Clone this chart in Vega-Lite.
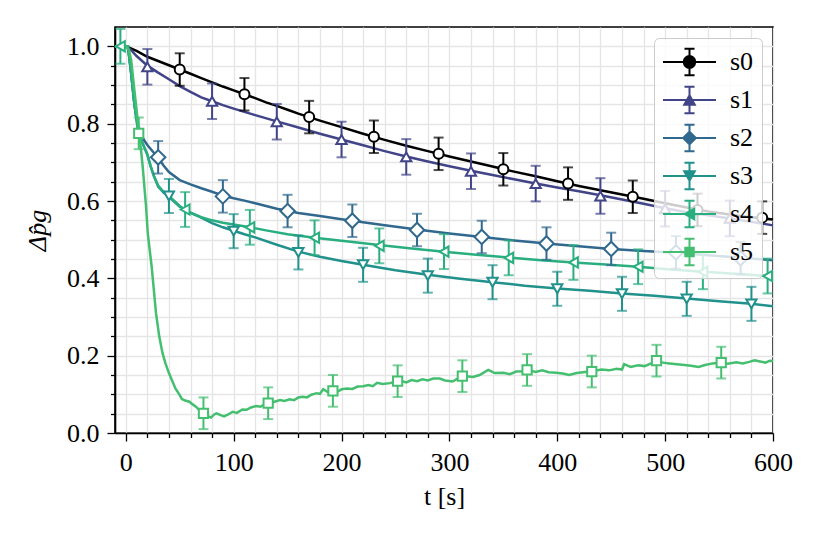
{
  "$schema": "https://vega.github.io/schema/vega-lite/v6.json",
  "width": 658,
  "height": 406,
  "autosize": {"type": "none"},
  "padding": {"left": 115, "top": 27, "right": 50, "bottom": 105},
  "config": {
    "font": "Liberation Serif",
    "view": {"stroke": "black", "strokeWidth": 1.6},
    "axis": {
      "domainColor": "black", "domainWidth": 1.6,
      "tickColor": "black", "tickWidth": 1.3,
      "labelFont": "Liberation Serif", "labelFontSize": 26, "labelColor": "black",
      "titleFont": "Liberation Serif", "titleFontSize": 26, "titleColor": "black", "titleFontWeight": "normal",
      "grid": true, "gridColor": "#e5e5e5", "gridWidth": 1.3
    },
    "legend": {
      "orient": "top-right", "offset": 11, "padding": 8,
      "fillColor": "rgba(255,255,255,0.8)", "strokeColor": "#cccccc", "cornerRadius": 5,
      "symbolSize": 900, "symbolStrokeWidth": 2, "symbolOpacity": 1, "symbolFillColor": "white",
      "labelFont": "Liberation Serif", "labelFontSize": 26, "labelColor": "black", "labelOffset": 36, "rowPadding": 2
    },
    "point": {"filled": false, "fill": "white", "strokeWidth": 2, "opacity": 1}
  },
  "datasets": {
    "lines": [
      {"s":"s0","t":-10,"v":1.0},{"s":"s0","t":0,"v":1.0},{"s":"s0","t":10,"v":0.988},{"s":"s0","t":20,"v":0.973},{"s":"s0","t":30,"v":0.962},{"s":"s0","t":40,"v":0.951},{"s":"s0","t":50,"v":0.94},{"s":"s0","t":60,"v":0.929},{"s":"s0","t":70,"v":0.918},{"s":"s0","t":80,"v":0.907},{"s":"s0","t":90,"v":0.896},{"s":"s0","t":100,"v":0.886},{"s":"s0","t":110,"v":0.876},{"s":"s0","t":120,"v":0.866},{"s":"s0","t":130,"v":0.855},{"s":"s0","t":140,"v":0.846},{"s":"s0","t":150,"v":0.836},{"s":"s0","t":160,"v":0.826},{"s":"s0","t":170,"v":0.817},{"s":"s0","t":180,"v":0.808},{"s":"s0","t":200,"v":0.791},{"s":"s0","t":220,"v":0.774},{"s":"s0","t":240,"v":0.758},{"s":"s0","t":260,"v":0.743},{"s":"s0","t":280,"v":0.729},{"s":"s0","t":300,"v":0.715},{"s":"s0","t":320,"v":0.702},{"s":"s0","t":340,"v":0.689},{"s":"s0","t":360,"v":0.676},{"s":"s0","t":380,"v":0.664},{"s":"s0","t":400,"v":0.651},{"s":"s0","t":420,"v":0.639},{"s":"s0","t":440,"v":0.628},{"s":"s0","t":460,"v":0.617},{"s":"s0","t":480,"v":0.606},{"s":"s0","t":500,"v":0.594},{"s":"s0","t":520,"v":0.583},{"s":"s0","t":540,"v":0.573},{"s":"s0","t":560,"v":0.565},{"s":"s0","t":580,"v":0.558},{"s":"s0","t":600,"v":0.552},
      {"s":"s1","t":-10,"v":1.0},{"s":"s1","t":0,"v":1.0},{"s":"s1","t":5,"v":0.99},{"s":"s1","t":10,"v":0.975},{"s":"s1","t":20,"v":0.95},{"s":"s1","t":30,"v":0.932},{"s":"s1","t":40,"v":0.915},{"s":"s1","t":50,"v":0.897},{"s":"s1","t":60,"v":0.882},{"s":"s1","t":70,"v":0.868},{"s":"s1","t":80,"v":0.858},{"s":"s1","t":90,"v":0.848},{"s":"s1","t":100,"v":0.839},{"s":"s1","t":120,"v":0.822},{"s":"s1","t":140,"v":0.806},{"s":"s1","t":160,"v":0.79},{"s":"s1","t":180,"v":0.774},{"s":"s1","t":200,"v":0.759},{"s":"s1","t":220,"v":0.744},{"s":"s1","t":240,"v":0.729},{"s":"s1","t":260,"v":0.715},{"s":"s1","t":280,"v":0.702},{"s":"s1","t":300,"v":0.69},{"s":"s1","t":320,"v":0.678},{"s":"s1","t":340,"v":0.667},{"s":"s1","t":360,"v":0.656},{"s":"s1","t":380,"v":0.645},{"s":"s1","t":400,"v":0.635},{"s":"s1","t":420,"v":0.625},{"s":"s1","t":440,"v":0.615},{"s":"s1","t":460,"v":0.604},{"s":"s1","t":480,"v":0.593},{"s":"s1","t":500,"v":0.581},{"s":"s1","t":520,"v":0.571},{"s":"s1","t":540,"v":0.563},{"s":"s1","t":560,"v":0.555},{"s":"s1","t":580,"v":0.546},{"s":"s1","t":600,"v":0.537},
      {"s":"s2","t":-10,"v":1.0},{"s":"s2","t":2,"v":1.0},{"s":"s2","t":5,"v":0.93},{"s":"s2","t":8,"v":0.85},{"s":"s2","t":11,"v":0.8},{"s":"s2","t":14,"v":0.775},{"s":"s2","t":17,"v":0.757},{"s":"s2","t":20,"v":0.745},{"s":"s2","t":25,"v":0.728},{"s":"s2","t":30,"v":0.712},{"s":"s2","t":35,"v":0.692},{"s":"s2","t":40,"v":0.675},{"s":"s2","t":50,"v":0.654},{"s":"s2","t":60,"v":0.643},{"s":"s2","t":70,"v":0.633},{"s":"s2","t":80,"v":0.624},{"s":"s2","t":90,"v":0.614},{"s":"s2","t":100,"v":0.607},{"s":"s2","t":110,"v":0.601},{"s":"s2","t":120,"v":0.594},{"s":"s2","t":130,"v":0.587},{"s":"s2","t":140,"v":0.58},{"s":"s2","t":150,"v":0.575},{"s":"s2","t":160,"v":0.569},{"s":"s2","t":180,"v":0.561},{"s":"s2","t":200,"v":0.553},{"s":"s2","t":220,"v":0.545},{"s":"s2","t":240,"v":0.537},{"s":"s2","t":270,"v":0.526},{"s":"s2","t":300,"v":0.516},{"s":"s2","t":330,"v":0.507},{"s":"s2","t":360,"v":0.498},{"s":"s2","t":390,"v":0.49},{"s":"s2","t":420,"v":0.483},{"s":"s2","t":450,"v":0.476},{"s":"s2","t":480,"v":0.471},{"s":"s2","t":510,"v":0.466},{"s":"s2","t":540,"v":0.46},{"s":"s2","t":570,"v":0.453},{"s":"s2","t":600,"v":0.447},
      {"s":"s3","t":-10,"v":1.0},{"s":"s3","t":2,"v":1.0},{"s":"s3","t":5,"v":0.93},{"s":"s3","t":8,"v":0.85},{"s":"s3","t":11,"v":0.79},{"s":"s3","t":14,"v":0.76},{"s":"s3","t":17,"v":0.74},{"s":"s3","t":20,"v":0.72},{"s":"s3","t":23,"v":0.69},{"s":"s3","t":26,"v":0.665},{"s":"s3","t":30,"v":0.637},{"s":"s3","t":35,"v":0.622},{"s":"s3","t":40,"v":0.611},{"s":"s3","t":50,"v":0.585},{"s":"s3","t":60,"v":0.57},{"s":"s3","t":70,"v":0.557},{"s":"s3","t":80,"v":0.543},{"s":"s3","t":90,"v":0.532},{"s":"s3","t":100,"v":0.523},{"s":"s3","t":110,"v":0.514},{"s":"s3","t":120,"v":0.506},{"s":"s3","t":140,"v":0.487},{"s":"s3","t":160,"v":0.469},{"s":"s3","t":180,"v":0.456},{"s":"s3","t":200,"v":0.445},{"s":"s3","t":220,"v":0.435},{"s":"s3","t":250,"v":0.421},{"s":"s3","t":280,"v":0.409},{"s":"s3","t":310,"v":0.399},{"s":"s3","t":340,"v":0.39},{"s":"s3","t":370,"v":0.381},{"s":"s3","t":400,"v":0.374},{"s":"s3","t":430,"v":0.368},{"s":"s3","t":460,"v":0.361},{"s":"s3","t":490,"v":0.355},{"s":"s3","t":520,"v":0.348},{"s":"s3","t":550,"v":0.341},{"s":"s3","t":580,"v":0.334},{"s":"s3","t":600,"v":0.328},
      {"s":"s4","t":-10,"v":1.0},{"s":"s4","t":2,"v":1.0},{"s":"s4","t":5,"v":0.93},{"s":"s4","t":8,"v":0.85},{"s":"s4","t":11,"v":0.79},{"s":"s4","t":14,"v":0.76},{"s":"s4","t":17,"v":0.74},{"s":"s4","t":20,"v":0.72},{"s":"s4","t":23,"v":0.69},{"s":"s4","t":26,"v":0.665},{"s":"s4","t":30,"v":0.64},{"s":"s4","t":35,"v":0.624},{"s":"s4","t":40,"v":0.613},{"s":"s4","t":50,"v":0.587},{"s":"s4","t":55,"v":0.578},{"s":"s4","t":60,"v":0.569},{"s":"s4","t":70,"v":0.558},{"s":"s4","t":80,"v":0.55},{"s":"s4","t":90,"v":0.544},{"s":"s4","t":100,"v":0.539},{"s":"s4","t":115,"v":0.532},{"s":"s4","t":130,"v":0.524},{"s":"s4","t":150,"v":0.514},{"s":"s4","t":175,"v":0.505},{"s":"s4","t":200,"v":0.497},{"s":"s4","t":235,"v":0.486},{"s":"s4","t":265,"v":0.477},{"s":"s4","t":295,"v":0.469},{"s":"s4","t":325,"v":0.461},{"s":"s4","t":355,"v":0.454},{"s":"s4","t":385,"v":0.447},{"s":"s4","t":415,"v":0.441},{"s":"s4","t":445,"v":0.436},{"s":"s4","t":475,"v":0.43},{"s":"s4","t":505,"v":0.423},{"s":"s4","t":535,"v":0.417},{"s":"s4","t":565,"v":0.412},{"s":"s4","t":600,"v":0.405},
      {"s":"s5","t":-10,"v":1.0},{"s":"s5","t":0,"v":1.0},{"s":"s5","t":3,"v":0.99},{"s":"s5","t":5,"v":0.964},{"s":"s5","t":8,"v":0.886},{"s":"s5","t":11,"v":0.81},{"s":"s5","t":12.5,"v":0.776},{"s":"s5","t":15.7,"v":0.688},{"s":"s5","t":18.8,"v":0.585},{"s":"s5","t":20.4,"v":0.516},{"s":"s5","t":21.5,"v":0.49},{"s":"s5","t":24,"v":0.43},{"s":"s5","t":26,"v":0.37},{"s":"s5","t":28,"v":0.31},{"s":"s5","t":31,"v":0.25},{"s":"s5","t":34,"v":0.207},{"s":"s5","t":37,"v":0.178},{"s":"s5","t":40,"v":0.155},{"s":"s5","t":43,"v":0.135},{"s":"s5","t":46,"v":0.115},{"s":"s5","t":50,"v":0.098},{"s":"s5","t":52,"v":0.088},{"s":"s5","t":55,"v":0.084},{"s":"s5","t":59,"v":0.081},{"s":"s5","t":62,"v":0.074},{"s":"s5","t":65,"v":0.068},{"s":"s5","t":68,"v":0.06},{"s":"s5","t":71,"v":0.051},{"s":"s5","t":75,"v":0.045},{"s":"s5","t":79,"v":0.04},{"s":"s5","t":82,"v":0.048},{"s":"s5","t":84,"v":0.051},{"s":"s5","t":88,"v":0.046},{"s":"s5","t":91,"v":0.043},{"s":"s5","t":95,"v":0.048},{"s":"s5","t":99,"v":0.055},{"s":"s5","t":103,"v":0.052},{"s":"s5","t":108,"v":0.061},{"s":"s5","t":112,"v":0.06},{"s":"s5","t":116,"v":0.066},{"s":"s5","t":121,"v":0.07},{"s":"s5","t":125,"v":0.068},{"s":"s5","t":129,"v":0.075},{"s":"s5","t":133,"v":0.077},{"s":"s5","t":137,"v":0.08},{"s":"s5","t":143,"v":0.085},{"s":"s5","t":147,"v":0.083},{"s":"s5","t":152,"v":0.087},{"s":"s5","t":156,"v":0.085},{"s":"s5","t":160,"v":0.092},{"s":"s5","t":164,"v":0.094},{"s":"s5","t":168,"v":0.092},{"s":"s5","t":172,"v":0.099},{"s":"s5","t":177,"v":0.103},{"s":"s5","t":180,"v":0.101},{"s":"s5","t":183,"v":0.113},{"s":"s5","t":187,"v":0.106},{"s":"s5","t":193,"v":0.109},{"s":"s5","t":197,"v":0.108},{"s":"s5","t":200,"v":0.113},{"s":"s5","t":205,"v":0.115},{"s":"s5","t":210,"v":0.114},{"s":"s5","t":215,"v":0.12},{"s":"s5","t":220,"v":0.121},{"s":"s5","t":225,"v":0.124},{"s":"s5","t":229,"v":0.121},{"s":"s5","t":233,"v":0.13},{"s":"s5","t":238,"v":0.127},{"s":"s5","t":245,"v":0.129},{"s":"s5","t":250,"v":0.133},{"s":"s5","t":255,"v":0.135},{"s":"s5","t":260,"v":0.131},{"s":"s5","t":265,"v":0.137},{"s":"s5","t":270,"v":0.134},{"s":"s5","t":275,"v":0.139},{"s":"s5","t":280,"v":0.136},{"s":"s5","t":285,"v":0.141},{"s":"s5","t":291,"v":0.141},{"s":"s5","t":296,"v":0.136},{"s":"s5","t":303,"v":0.133},{"s":"s5","t":308,"v":0.141},{"s":"s5","t":316,"v":0.147},{"s":"s5","t":322,"v":0.145},{"s":"s5","t":328,"v":0.15},{"s":"s5","t":336,"v":0.163},{"s":"s5","t":342,"v":0.155},{"s":"s5","t":350,"v":0.156},{"s":"s5","t":356,"v":0.152},{"s":"s5","t":362,"v":0.159},{"s":"s5","t":368,"v":0.16},{"s":"s5","t":373,"v":0.163},{"s":"s5","t":380,"v":0.158},{"s":"s5","t":386,"v":0.162},{"s":"s5","t":392,"v":0.157},{"s":"s5","t":399,"v":0.156},{"s":"s5","t":405,"v":0.154},{"s":"s5","t":411,"v":0.15},{"s":"s5","t":418,"v":0.155},{"s":"s5","t":426,"v":0.158},{"s":"s5","t":433,"v":0.16},{"s":"s5","t":441,"v":0.164},{"s":"s5","t":448,"v":0.162},{"s":"s5","t":455,"v":0.166},{"s":"s5","t":460,"v":0.164},{"s":"s5","t":462,"v":0.178},{"s":"s5","t":468,"v":0.171},{"s":"s5","t":475,"v":0.175},{"s":"s5","t":481,"v":0.173},{"s":"s5","t":487,"v":0.18},{"s":"s5","t":492,"v":0.187},{"s":"s5","t":498,"v":0.182},{"s":"s5","t":504,"v":0.18},{"s":"s5","t":511,"v":0.178},{"s":"s5","t":518,"v":0.176},{"s":"s5","t":524,"v":0.174},{"s":"s5","t":531,"v":0.171},{"s":"s5","t":537,"v":0.176},{"s":"s5","t":544,"v":0.18},{"s":"s5","t":552,"v":0.182},{"s":"s5","t":558,"v":0.179},{"s":"s5","t":566,"v":0.183},{"s":"s5","t":572,"v":0.18},{"s":"s5","t":578,"v":0.184},{"s":"s5","t":583,"v":0.188},{"s":"s5","t":588,"v":0.185},{"s":"s5","t":593,"v":0.182},{"s":"s5","t":597,"v":0.187},{"s":"s5","t":600,"v":0.186}
    ],
    "marks": [
      {"s":"s0","t":50,"v":0.94,"e":0.042},{"s":"s0","t":110,"v":0.876,"e":0.042},{"s":"s0","t":170,"v":0.817,"e":0.042},{"s":"s0","t":230,"v":0.766,"e":0.042},{"s":"s0","t":290,"v":0.722,"e":0.042},{"s":"s0","t":350,"v":0.682,"e":0.042},{"s":"s0","t":410,"v":0.645,"e":0.042},{"s":"s0","t":470,"v":0.611,"e":0.042},{"s":"s0","t":530,"v":0.577,"e":0.042},{"s":"s0","t":590,"v":0.557,"e":0.042},
      {"s":"s1","t":20,"v":0.947,"e":0.046},{"s":"s1","t":80,"v":0.858,"e":0.046},{"s":"s1","t":140,"v":0.805,"e":0.046},{"s":"s1","t":200,"v":0.759,"e":0.046},{"s":"s1","t":260,"v":0.714,"e":0.046},{"s":"s1","t":320,"v":0.677,"e":0.046},{"s":"s1","t":380,"v":0.645,"e":0.046},{"s":"s1","t":440,"v":0.613,"e":0.046},{"s":"s1","t":500,"v":0.58,"e":0.046},{"s":"s1","t":560,"v":0.555,"e":0.046},
      {"s":"s2","t":30,"v":0.713,"e":0.042},{"s":"s2","t":90,"v":0.612,"e":0.042},{"s":"s2","t":150,"v":0.574,"e":0.042},{"s":"s2","t":210,"v":0.549,"e":0.042},{"s":"s2","t":270,"v":0.525,"e":0.042},{"s":"s2","t":330,"v":0.507,"e":0.042},{"s":"s2","t":390,"v":0.49,"e":0.042},{"s":"s2","t":450,"v":0.476,"e":0.042},{"s":"s2","t":510,"v":0.467,"e":0.042},{"s":"s2","t":570,"v":0.452,"e":0.042},
      {"s":"s3","t":40,"v":0.613,"e":0.044},{"s":"s3","t":100,"v":0.522,"e":0.044},{"s":"s3","t":160,"v":0.467,"e":0.044},{"s":"s3","t":220,"v":0.435,"e":0.044},{"s":"s3","t":280,"v":0.407,"e":0.044},{"s":"s3","t":340,"v":0.39,"e":0.044},{"s":"s3","t":400,"v":0.373,"e":0.044},{"s":"s3","t":460,"v":0.36,"e":0.044},{"s":"s3","t":520,"v":0.347,"e":0.044},{"s":"s3","t":580,"v":0.334,"e":0.044},
      {"s":"s4","t":-5,"v":1.0,"e":0.045},{"s":"s4","t":55,"v":0.578,"e":0.045},{"s":"s4","t":115,"v":0.532,"e":0.045},{"s":"s4","t":175,"v":0.505,"e":0.045},{"s":"s4","t":235,"v":0.484,"e":0.045},{"s":"s4","t":295,"v":0.469,"e":0.045},{"s":"s4","t":355,"v":0.453,"e":0.045},{"s":"s4","t":415,"v":0.441,"e":0.045},{"s":"s4","t":475,"v":0.43,"e":0.045},{"s":"s4","t":535,"v":0.417,"e":0.045},{"s":"s4","t":595,"v":0.406,"e":0.045},
      {"s":"s5","t":12,"v":0.775,"e":0.041},{"s":"s5","t":72,"v":0.051,"e":0.041},{"s":"s5","t":132,"v":0.077,"e":0.041},{"s":"s5","t":192,"v":0.109,"e":0.041},{"s":"s5","t":252,"v":0.134,"e":0.041},{"s":"s5","t":312,"v":0.147,"e":0.041},{"s":"s5","t":372,"v":0.163,"e":0.041},{"s":"s5","t":432,"v":0.159,"e":0.041},{"s":"s5","t":492,"v":0.187,"e":0.041},{"s":"s5","t":552,"v":0.182,"e":0.041}
    ]
  },
  "encoding": {
    "x": {
      "field": "t", "type": "quantitative",
      "scale": {"domain": [-10, 600], "nice": false, "zero": false},
      "axis": {
        "title": "t [s]",
        "values": [0,20,40,60,80,100,120,140,160,180,200,220,240,260,280,300,320,340,360,380,400,420,440,460,480,500,520,540,560,580,600],
        "labelExpr": "datum.value % 100 === 0 ? datum.label : ''",
        "tickSize": {"condition": {"test": "datum.value % 100 === 0", "value": 8}, "value": 4.5},
        "labelFlush": false, "labelOverlap": false,
        "labelPadding": 8, "titlePadding": 8
      }
    },
    "y": {
      "field": "v", "type": "quantitative",
      "scale": {"domain": [0, 1.05], "nice": false, "zero": false},
      "axis": {
        "title": "Δp̂g",
        "titleFontStyle": "italic",
        "values": [0,0.05,0.1,0.15,0.2,0.25,0.3,0.35,0.4,0.45,0.5,0.55,0.6,0.65,0.7,0.75,0.8,0.85,0.9,0.95,1.0],
        "labelExpr": "abs(datum.value * 5 - round(datum.value * 5)) < 0.001 ? format(datum.value, '.1f') : ''",
        "tickSize": {"condition": {"test": "abs(datum.value * 5 - round(datum.value * 5)) < 0.001", "value": 8}, "value": 4.5},
        "labelOverlap": false,
        "labelPadding": 8, "titlePadding": 16
      }
    },
    "color": {
      "field": "s", "type": "nominal", "title": null,
      "scale": {"domain": ["s0","s1","s2","s3","s4","s5"], "range": ["#000000","#414487","#31688e","#21918c","#29af7f","#44bf70"]},
      "legend": {"encoding": {"symbols": {"update": {"fill": {"value": "white"}}}}}
    }
  },
  "layer": [
    {
      "data": {"name": "marks"},
      "transform": [{"filter": "datum.t > 10000"}],
      "mark": {"type": "point"},
      "encoding": {
        "shape": {
          "field": "s", "type": "nominal", "title": null,
          "scale": {
            "domain": ["s0","s1","s2","s3","s4","s5"],
            "range": [
              "M-1,0H0.396M1.137,0H2.533M0.767,-0.883V-0.371M0.767,0.371V0.883M0.431,-0.883H1.102M0.431,0.883H1.102M0.396,0A0.371,0.371,0,1,0,1.137,0A0.371,0.371,0,1,0,0.396,0Z",
              "M-1,0H0.59M0.944,0H2.533M0.767,-0.883V-0.318M0.767,0.318V0.883M0.431,-0.883H1.102M0.431,0.883H1.102M0.767,-0.318L1.12,0.318L0.413,0.318Z",
              "M-1,0H0.343M1.191,0H2.533M0.767,-0.883V-0.424M0.767,0.424V0.883M0.431,-0.883H1.102M0.431,0.883H1.102M0.767,-0.424L1.191,0L0.767,0.424L0.343,0Z",
              "M-1,0H0.59M0.944,0H2.533M0.767,-0.883V-0.318M0.767,0.318V0.883M0.431,-0.883H1.102M0.431,0.883H1.102M0.767,0.318L1.12,-0.318L0.413,-0.318Z",
              "M-1,0H0.449M1.085,0H2.533M0.767,-0.883V-0.177M0.767,0.177V0.883M0.431,-0.883H1.102M0.431,0.883H1.102M0.449,0L1.085,-0.353L1.085,0.353Z",
              "M-1,0H0.484M1.05,0H2.533M0.767,-0.883V-0.283M0.767,0.283V0.883M0.431,-0.883H1.102M0.431,0.883H1.102M0.484,-0.283H1.05V0.283H0.484Z"
            ]
          },
          "legend": {"encoding": {"symbols": {"update": {"fill": {"value": "white"}}}}}
        }
      }
    },
    {
      "data": {"name": "lines"},
      "mark": {"type": "line", "strokeWidth": 2.5}
    },
    {
      "data": {"name": "marks"},
      "mark": {"type": "errorbar", "thickness": 2, "ticks": {"size": 10, "thickness": 2}},
      "encoding": {"yError": {"field": "e"}}
    },
    {
      "data": {"name": "marks"},
      "transform": [{"filter": {"field": "s", "equal": "s0"}}],
      "mark": {"type": "point", "shape": "circle", "size": 100}
    },
    {
      "data": {"name": "marks"},
      "transform": [{"filter": {"field": "s", "equal": "s1"}}],
      "mark": {"type": "point", "shape": "triangle-up", "size": 105}
    },
    {
      "data": {"name": "marks"},
      "transform": [{"filter": {"field": "s", "equal": "s2"}}],
      "mark": {"type": "point", "shape": "diamond", "size": 210}
    },
    {
      "data": {"name": "marks"},
      "transform": [{"filter": {"field": "s", "equal": "s3"}}],
      "mark": {"type": "point", "shape": "triangle-down", "size": 105}
    },
    {
      "data": {"name": "marks"},
      "transform": [{"filter": {"field": "s", "equal": "s4"}}],
      "mark": {"type": "point", "shape": "triangle-left", "size": 105}
    },
    {
      "data": {"name": "marks"},
      "transform": [{"filter": {"field": "s", "equal": "s5"}}],
      "mark": {"type": "point", "shape": "square", "size": 85}
    }
  ]
}
